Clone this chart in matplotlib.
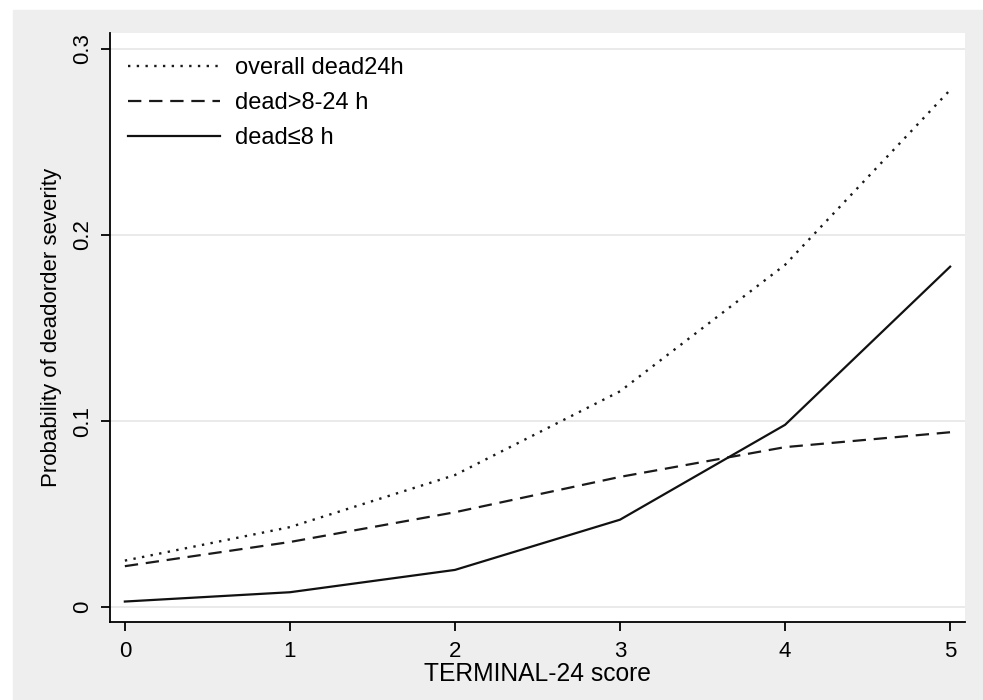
import matplotlib
matplotlib.use("Agg")
import matplotlib.pyplot as plt

plt.rcParams['font.family'] = ['Liberation Sans', 'DejaVu Sans']

score = [0, 1, 2, 3, 4, 5]
overall = [0.025, 0.043, 0.071, 0.116, 0.184, 0.278]
dead_8_24 = [0.022, 0.035, 0.051, 0.070, 0.086, 0.094]
dead_le8 = [0.003, 0.008, 0.020, 0.047, 0.098, 0.183]
yticks = [0, 0.1, 0.2, 0.3]
yticklabels = ["0", "0.1", "0.2", "0.3"]

fig = plt.figure(figsize=(9.83, 7), dpi=100, facecolor='white')
# grey panel behind the plot
fig.patches.append(plt.Rectangle((13 / 983, 0), 1 - 13 / 983, 1 - 10 / 700,
                                 transform=fig.transFigure, color='#eeeeee', zorder=-10))
ax = fig.add_axes([110 / 983, 78 / 700, 855 / 983, 589 / 700])
ax.set_facecolor('white')

ax.plot(score, overall, color='#1a1a1a', lw=1.7, linestyle=(0, (1, 2.7)), label='overall dead24h')
ax.plot(score, dead_8_24, color='#1a1a1a', lw=1.6, linestyle=(0, (6, 3.5)), label='dead>8-24 h')
ax.plot(score, dead_le8, color='#111111', lw=1.6, linestyle='-', label='dead≤8 h')

ax.set_xlim(-0.09, 5.09)
ax.set_ylim(-0.008, 0.3086)
ax.set_yticks(yticks)
ax.set_yticklabels(yticklabels, rotation=90, va='center', fontsize=17)
ax.set_xticks(score)
ax.grid(axis='y', color='#e6e6e6', lw=1.2)
ax.set_axisbelow(True)

for s in ['top', 'right']:
    ax.spines[s].set_visible(False)
for s in ['left', 'bottom']:
    ax.spines[s].set_linewidth(1.3)
ax.tick_params(length=6.5, width=1.3, labelsize=16)
ax.tick_params(axis='x', pad=7.5)
ax.tick_params(axis='y', pad=6)

ax.set_xlabel('TERMINAL-24 score', fontsize=17.7, labelpad=0)
ax.set_ylabel('Probability of deadorder severity', fontsize=16, labelpad=7)

ax.legend(loc='upper left', frameon=False, fontsize=17, handlelength=3.9,
          handletextpad=0.64, labelspacing=0.55, bbox_to_anchor=(-0.0035, 0.995))

fig.savefig('out.png', dpi=100, facecolor=fig.get_facecolor())
